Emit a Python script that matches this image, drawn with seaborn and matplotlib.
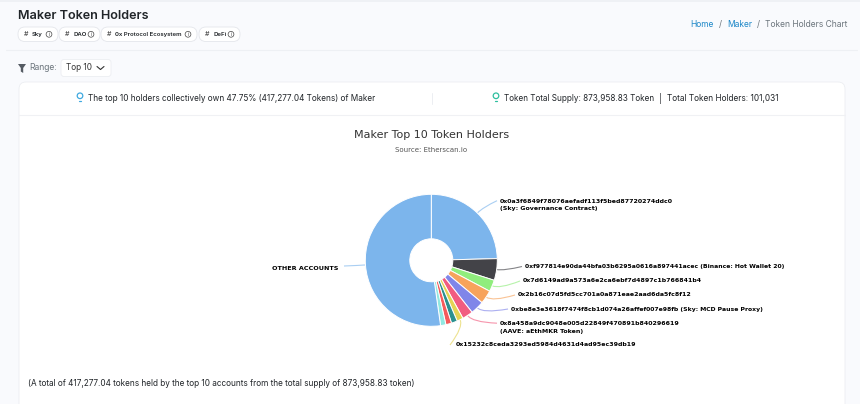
import numpy as np
import matplotlib
matplotlib.use('Agg')
import matplotlib.pyplot as plt
import seaborn as sns
from matplotlib.patches import FancyBboxPatch, Circle, Polygon
from matplotlib.path import Path
from matplotlib.patches import PathPatch

# Chart values (share of total supply, %)
holders = ['0x0a3f', '0xf977', '0x7d61', '0x2b16', '0xbe8e', '0x8a45', '0x1523', 'holder 8', 'holder 9', 'holder 10', 'OTHER ACCOUNTS']
shares = [24.6, 5.3, 2.86, 3.33, 3.33, 2.64, 1.53, 1.47, 1.39, 1.31, 52.25]
colors = ['#7cb5ec', '#434348', '#90ed7d', '#f7a35c', '#8085e9', '#f15c80',
          '#e4d354', '#2b908f', '#f45b5b', '#91e8e1', '#7cb5ec']

# label text, anchor x, anchor y, slice index, font size
slice_labels = [
    ('0x0a3f6849f78076aefadf113f5bed87720274ddc0\n(Sky: Governance Contract)', 500, 205, 0, 4.52),
    ('0xf977814e90da44bfa03b6295a0616a897441acec (Binance: Hot Wallet 20)', 525, 266.5, 1, 4.44),
    ('0x7d6149ad9a573a6e2ca6ebf7d4897c1b766841b4', 523, 281, 2, 4.5),
    ('0x2b16c07d5fd5cc701a0a871eae2aad6da5fc8f12', 518, 295, 3, 4.5),
    ('0xbe8e3e3618f7474f8cb1d074a26affef007e98fb (Sky: MCD Pause Proxy)', 511, 309, 4, 4.42),
    ('0x8a458a9dc9048e005d22849f470891b840296619\n(AAVE: aEthMKR Token)', 500, 327.5, 5, 4.5),
    ('0x15232c8ceda3293ed5984d4631d4ad95ec39db19', 456, 345, 6, 4.5),
]
chips = [('Sky', 18, 58), ('DAO', 59, 100), ('0x Protocol Ecosystem', 101, 197), ('DeFi', 199, 240)]

sns.set_theme(style='white')
plt.rcParams['font.family'] = ['Inter', 'DejaVu Sans']

fig = plt.figure(figsize=(8.6, 4.04), dpi=100, facecolor='#f9fafd')
page = fig.add_axes([0, 0, 1, 1])
page.set_xlim(0, 860)
page.set_ylim(404, 0)
page.axis('off')


def box(x0, y0, x1, y1, r, fc, ec='none', lw=0.6, z=1):
    page.add_patch(FancyBboxPatch((x0 + r, y0 + r), x1 - x0 - 2 * r, y1 - y0 - 2 * r,
                                  boxstyle=f'round,pad={r},rounding_size={r}', fc=fc, ec=ec, lw=lw, zorder=z))


def info_icon(x, y):
    page.add_patch(Circle((x, y), 2.9, fc='none', ec='#444444', lw=0.5, zorder=3))
    page.text(x, y + 0.1, 'i', fontsize=3.6, color='#444444', ha='center', va='center', zorder=3)


def bulb(x, y, col):
    page.add_patch(Circle((x, y - 1.2), 2.8, fc='none', ec=col, lw=0.9, zorder=3))
    page.plot([x - 1.3, x + 1.3], [y + 3.5, y + 3.5], color=col, lw=0.9, zorder=3)


# page chrome
page.plot([0, 860], [0.5, 0.5], color='#eef0f4', lw=1.2)
page.plot([6, 857], [49.5, 49.5], color='#eef0f4', lw=0.8)
page.text(18, 16, 'Maker Token Holders', fontsize=9.1, fontweight='semibold', color='#212529', va='center')
for name, x0, x1 in chips:
    box(x0, 27, x1, 41.5, 7, 'white', '#e4e6eb')
    page.text(x0 + 8, 34.3, '#', fontsize=5, color='#333333', ha='center', va='center')
    page.text(x0 + 14, 34.3, name, fontsize=4.35, fontweight='semibold', color='#212529', va='center')
    info_icon(x1 - 9, 34.3)

page.text(690, 24.5, 'Home', fontsize=6.1, color='#1e88c8', va='center')
page.text(719, 24.5, '/', fontsize=6.1, color='#6c757d', va='center')
page.text(727, 24.5, 'Maker', fontsize=6.1, color='#1e88c8', va='center')
page.text(757, 24.5, '/', fontsize=6.1, color='#6c757d', va='center')
page.text(765, 24.5, 'Token Holders Chart', fontsize=6.1, color='#6c757d', va='center')

page.add_patch(Polygon([(18, 64), (26, 64), (23.2, 68), (23.2, 73), (20.8, 71.5), (20.8, 68)], fc='#555b63', ec='none'))
page.text(29, 68, 'Range:', fontsize=6.2, color='#6c757d', va='center')
box(61, 59.5, 111, 76.5, 3, 'white', '#eceef2')
page.text(66, 68, 'Top 10', fontsize=5.9, color='#333333', va='center')
page.plot([97, 100.5, 104], [66.5, 69.5, 66.5], color='#333333', lw=0.8)

# white card
box(19, 82, 845, 430, 7, 'white', '#eceef2', z=1)
page.plot([19, 845], [115, 115], color='#f0f1f4', lw=0.8, zorder=2)
page.plot([431.5, 431.5], [93, 104], color='#eceef2', lw=0.7, zorder=2)
bulb(80, 97, '#3fa9e0')
page.text(88, 98.5, 'The top 10 holders collectively own 47.75% (417,277.04 Tokens) of Maker',
          fontsize=5.9, color='#212529', va='center', zorder=3)
bulb(496, 97, '#2fbf9f')
page.text(504, 98.5, 'Token Total Supply: 873,958.83 Token', fontsize=5.85, color='#212529', va='center', zorder=3)
page.text(659, 98.5, '|', fontsize=5.9, color='#212529', va='center', zorder=3)
page.text(667, 98.5, 'Total Token Holders: 101,031', fontsize=5.95, color='#212529', va='center', zorder=3)
page.text(28, 384, '(A total of 417,277.04 tokens held by the top 10 accounts from the total supply of 873,958.83 token)',
          fontsize=5.9, color='#212529', va='center', zorder=3)

# chart title
page.text(431.5, 135.5, 'Maker Top 10 Token Holders', fontsize=8.0, color='#333333', ha='center', va='center',
          family='DejaVu Sans', zorder=3)
page.text(431.5, 150.5, 'Source: Etherscan.io', fontsize=5, color='#555555', ha='center', va='center',
          family='DejaVu Sans', zorder=3)

# donut, centre (431.3, 260.3) radius 66 px
cx, cy, rad = 431.3, 260.3, 66
ax = fig.add_axes([(cx - rad) / 860, 1 - (cy + rad) / 404, 2 * rad / 860, 2 * rad / 404])
ax.patch.set_alpha(0)
ax.pie(shares, colors=colors, startangle=90, counterclock=False, radius=1,
       wedgeprops=dict(width=1 - 21.5 / 66, edgecolor='white', linewidth=0.7))
ax.set_xlim(-1.0, 1.0)
ax.set_ylim(-1.0, 1.0)

# connectors start at each slice's mid angle
mids = (np.cumsum(shares) - np.array(shares) / 2) / sum(shares) * 2 * np.pi


def connector(idx, end_x, end_y):
    sx = cx + rad * np.sin(mids[idx])
    sy = cy - rad * np.cos(mids[idx])
    ox = cx + (rad + 8) * np.sin(mids[idx])
    oy = cy - (rad + 8) * np.cos(mids[idx])
    path = Path([(sx, sy), (ox, oy), (end_x, end_y)], [Path.MOVETO, Path.CURVE3, Path.CURVE3])
    page.add_patch(PathPatch(path, fc='none', ec=colors[idx], lw=0.8, alpha=0.65, zorder=3))


for text, x, y, idx, size in slice_labels:
    page.text(x, y, text, fontsize=size, fontweight='bold', color='black', va='center', ha='left',
              family='DejaVu Sans', linespacing=1.55, zorder=4)
    first_y = y - 4.3 if '\n' in text else y
    end_x = x - 3 if idx != 6 else x - 6
    connector(idx, end_x, first_y)

page.text(338, 268, 'OTHER ACCOUNTS', fontsize=4.6, fontweight='bold', color='black', ha='right', va='center',
          family='DejaVu Sans', zorder=4)
connector(10, 344, 266)

fig.savefig('out.png', dpi=100, facecolor=fig.get_facecolor())
